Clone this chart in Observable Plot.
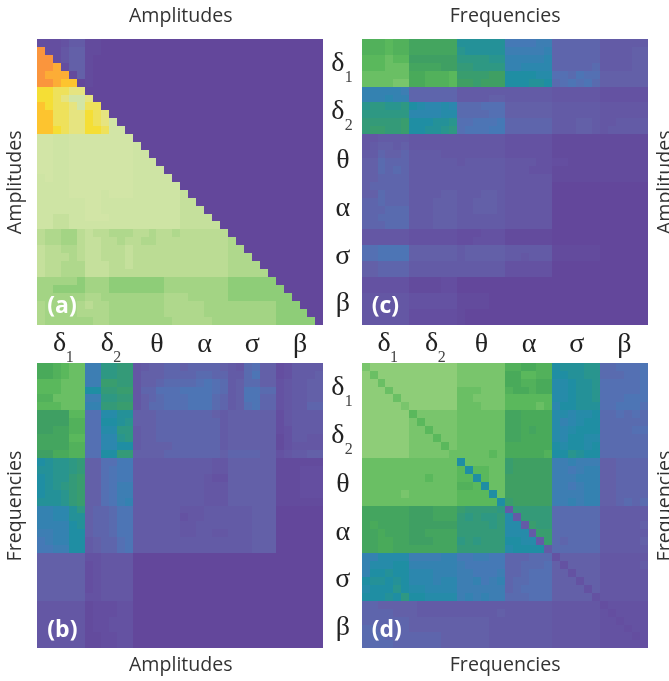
<!DOCTYPE html>
<html><head><meta charset="utf-8">
<script src="https://cdn.jsdelivr.net/npm/d3@7"></script>
<script src="https://cdn.jsdelivr.net/npm/@observablehq/plot@0.6"></script>
<style>html,body{margin:0;padding:0;background:#fff;overflow:hidden}svg{display:block}</style>
</head><body><div id="chart"></div>
<script>
const alphabet = "0123456789abcdefghijklmnopqrstuvwxyzABCDEF";
const stopChars  = ["0","3","6","9","b","e","g","j","m","o","q","s","u","w","y","z","A","C","D","F"];
const stopColors = ["#63479b","#6452a2","#6360a8","#5470b3","#4579b6","#2c87ae","#1f8ea3","#2e9883","#3f9f63","#49aa5a","#5ab85c","#79c56c","#a3d484","#bbdc94","#cee4a4","#d2e5a6","#e6e480","#f5de35","#fdc42f","#fa953d"];
const bandGlyphs = ["δ","δ","θ","α","σ","β"];
const bandSubs = ["1","2","","","",""];
const panelA = [
"222355 110000 000000 000000 000000 000000",
"F22466 110000 000000 000000 000000 000000",
"FF2466 100000 000000 000000 000000 000000",
"FFE266 100000 000000 000000 000000 000000",
"FEEE16 100000 000000 000000 000000 000000",
"FFEDD0 100000 000000 000000 000000 000000",
"CCBBAA 000000 000000 000000 000000 000000",
"CCBAzz A00000 000000 000000 000000 000000",
"DCBBAz BB0000 000000 000000 000000 000000",
"DDBBAA CBA000 000000 000000 000000 000000",
"DDBBAA CBAz00 000000 000000 000000 000000",
"DDCBAA CCBzz0 000000 000000 000000 000000",
"zzyyzz zzzzzz 000000 000000 000000 000000",
"zzyyzz zzzzzz y00000 000000 000000 000000",
"zzyyzz zzzzzz yy0000 000000 000000 000000",
"zzyyzz zzzzzz yyy000 000000 000000 000000",
"zzyyzz zzzzzz yyyy00 000000 000000 000000",
"yzyyzz zzzzzz yyyyy0 000000 000000 000000",
"yyyyzz zzzzzz yyyyyy 000000 000000 000000",
"yyyyzz zzyzzz yyyyyy x00000 000000 000000",
"yyyyyy zzyyyy yyyyyy xx0000 000000 000000",
"yyyyyy zzyyyy yyyyyy xxx000 000000 000000",
"yyxxyy zzzyyy yyyyyy xxxx00 000000 000000",
"yyxxyy yyyyyy yyyyyy xxxxx0 000000 000000",
"wvvuuw xwwvvv wwvwwv wwwwww 000000 000000",
"wvvuuw xxwwvw wvvwww wwwwww v00000 000000",
"xwwvvw xxwwwx wwwwww wwwwww vv0000 000000",
"xwwwvw xxwwwx wwwwww wwwwww vvv000 000000",
"xwwvvv xxxwwx wwwwww wwwwww vvvv00 000000",
"xwwvvv xxxwww wwwwww wwwwww vvvvv0 000000",
"uuuuut uuuttt ttttuu uuuuuu tttttt 000000",
"uutttt uuuttt ttttuu uuuuuu tttttt t00000",
"uuuuuu vvuuuu uuuuvv vuuuuu tttttt tt0000",
"vuuuuv wvvuuu uuuuvv vvvuuu uuuuuu ttt000",
"vuuuuv vvvuuu uuuuvv vvvuuu uuuuuu tttt00",
"vuuuuu uvvuuu uuuuuv vvvvuu uuuuuu ttttt0"];
const panelC = [
"pppqpp nnnnnn hhhhhh bbbbcc 777777 555555",
"pppqpp nnnnnn ihhhhh cccccd 777777 555566",
"qqqrqq mmmmmm jjjjii ddddde 777777 555566",
"qqqrrr nnnnmm kkjjjj ddeeee 777778 555566",
"rrrrrr oopppq llllmm ggggff 998a99 666666",
"rrrrss oopppq mmlmmm ggghhg 89a9a8 666666",
"dddddc 777777 555555 555555 444444 333333",
"dddedd 777777 555566 555555 444444 333333",
"ijjiij gfeefe 888999 666666 555555 444444",
"jjjjjj eeeeff 888899 666666 555555 444444",
"kkkkkl ggghhi 99aaab 777777 555665 445555",
"kllkkl gghhij 9aaabb 777777 555665 455555",
"445555 444444 444444 333333 111111 111111",
"456656 444444 444444 333333 111111 111111",
"557667 555544 444444 333333 111111 111111",
"668777 555555 455555 444433 221111 111111",
"668787 555555 555555 444333 111111 111111",
"667777 555555 555555 444444 111111 111111",
"677777 555555 555555 444444 000000 000000",
"668777 555566 555665 444444 000000 000000",
"778777 555666 556665 444444 000000 000000",
"777888 555666 556665 444444 000000 000000",
"778888 555666 555555 444444 000000 000000",
"777888 555666 555555 444444 000000 000000",
"444444 333333 222333 111111 000000 000000",
"444444 333333 223333 111111 000000 000000",
"99aaaa 666666 566666 555555 111111 000000",
"99aaaa 666666 566666 554555 111111 000000",
"667777 555555 555555 333333 000000 000000",
"667777 555555 555555 333333 000000 000000",
"333333 111122 000000 000000 000000 000000",
"333333 111122 000000 000000 000000 000000",
"444444 333333 111100 000000 000000 000000",
"444444 333333 111100 000000 000000 000000",
"444444 222222 100000 000000 000000 000000",
"444444 222222 100000 000000 000000 000000"];
const panelB = [
"oopqrr ccjjkk 456677 677776 548966 235555",
"oopqrr ccjjkk 466677 778877 558a66 235556",
"qqqrrr ccllkk 466788 889a98 568866 345566",
"qqqrrr ggkkll 477999 aaaa98 56aa88 345566",
"pprrrr ccjjkk 467899 9aaa87 56aa77 345566",
"qqqrrr ddkkll 468899 9aaa87 569a77 345577",
"mmmmqq 99ffhh 666777 777765 666666 245555",
"mmmmpp 99gghi 666777 777775 666666 245555",
"mmnnpp 99ffjj 566777 777775 666666 235555",
"nnnnqq 99eeij 566777 777775 666666 135544",
"nnnnpp 99eegg 566667 777775 666666 134444",
"mmoopp 99ggkk 666677 777776 777766 345566",
"ghiijk 6699bb 555555 555544 666666 111111",
"hhiijk 669abb 555555 555544 666666 111222",
"ghiikl 669abb 555555 555433 666666 111222",
"ghijkl 669acc 555555 555444 666666 111222",
"ghhikl 669acc 555555 555444 666666 111222",
"hhhikl 669acd 555555 555444 666666 111111",
"ddeehj 6778aa 555555 444555 555666 000000",
"ddeehh 6778aa 555555 344555 555666 000000",
"ddddgh 6778aa 555555 445555 555666 000000",
"ccddgg 6778aa 555555 445544 555666 000000",
"bcddgg 56779a 555555 555555 555666 000000",
"bbccgg 56779a 555555 555555 555666 000000",
"666666 334444 000000 000000 000000 000000",
"666666 234444 000000 000000 000000 000000",
"666666 234444 000000 000000 000000 000000",
"666666 234444 000000 000000 000000 000000",
"666666 234444 000000 000000 000000 000000",
"666666 334444 000000 000000 000000 000000",
"444444 122233 000000 000000 000000 000000",
"444444 122233 000000 000000 000000 000000",
"444444 122333 000000 000000 000000 000000",
"444444 122333 000000 000000 000000 000000",
"444444 112233 000000 000000 000000 000000",
"444444 112233 000000 000000 000000 000000"];
const panelD = [
"sttttt tttttt ssssss ppoopp ghhhii 88999a",
"trtttt tttttt ssssss ooqqpp gghhii 88899a",
"ttrttt tttttt ssssss ooppoo ffghhi 99999a",
"tttrtt tttttt rrrsss poopoo ffghhi 99999a",
"ttttrt tttttt rrssss qqqqqq ffghhi 999aaa",
"ttttts tttttt rrrsss qqqqrq egghhh 99aaa9",
"tttttt qsssss rrrrrr nnoooo ffeffg 889898",
"tttttt sqssss rrrrrr nnoooo fdefgg 888888",
"tttttt ssqsss rrrrrr nnonoo fefggg 888899",
"tttttt sssqss rrrrrr nnoooo feggff 888888",
"tttttt ssssqs rrrrrr oooooo gfggfg 888888",
"tttttt sssssr rrrrqr ooooop ggihgg 888888",
"rrrrrr rrrrrr grrrrr lmmmmm ccdccc 667777",
"rrrrrr rrrrrr qgqqrr lmmmmm ccbcdd 667777",
"rrrrrr rrqrrr qqgqrr mmmmmm cccddd 667777",
"rrrrrr rrrrrr ppqgrr mmmmmm ccbcdd 667777",
"rrrrrs rrrrrr qqqqgr mmmmmm ccccdd 667777",
"rrrrrr rrrrrr qqqqqg lmmmmm ccdcdd 667878",
"nnnnnn mmmnnn lkkkkj 5kkkkk 888888 555555",
"nnnnnn mmmnnn kjkjjk f5kkkk 888888 555555",
"nonnnn mmmmmm kkkkjk ff5lkk 888888 555556",
"nnonnn mmnnnn kkkkkk fff5ll 888888 555555",
"nnoonn mmmnnn jkjkkk ggff5l 878888 555556",
"nnoonn nnnnnn kkkkkk fgggg5 888888 555555",
"ddffff ccccdd bbccbb 777888 366666 444444",
"dfffgg dddddd cbbbbb 778889 636666 444445",
"dgghgg eeeddd ccbbbc 778999 663666 444444",
"ghhghg eeedee ccdbcd 788999 666366 444444",
"fgggig ffeeee cccccc 789999 666636 444444",
"ggghgj ggffff cdcdcc 888999 666663 444444",
"776666 655555 555555 555555 444444 233333",
"777766 655555 555556 555555 444444 323333",
"777777 666666 666655 555555 444444 332333",
"887777 666666 666655 555555 444444 333233",
"888777 777766 666655 555555 444444 333323",
"888877 777766 666655 555555 444444 333332"];

const panels = [
  {name:"(a)", col:"L", row:"T", rows:panelA},
  {name:"(c)", col:"R", row:"T", rows:panelC},
  {name:"(b)", col:"L", row:"B", rows:panelB},
  {name:"(d)", col:"R", row:"B", rows:panelD}
];
const cells = panels.flatMap(p => p.rows.flatMap((s, r) =>
  Array.from(s.replace(/ /g, ""), (ch, c) => ({col:p.col, row:p.row, c, r, level:alphabet.indexOf(ch)}))));

const FONT = "'Open Sans'", SERIF = "'Liberation Serif'", INK = "#333";
const bands = bandGlyphs.map((g, i) => ({g, sub:bandSubs[i], mid:i * 6 + 3}));
const xTicks = ["L","R"].flatMap(col => bands.map(b => ({...b, col, row:"T"})));
const yTicks = ["T","B"].flatMap(row => bands.map(b => ({...b, col:"L", row})));
const xTop = [{t:"Amplitudes", col:"L", row:"T"}, {t:"Frequencies", col:"R", row:"T"}];
const xBottom = [{t:"Amplitudes", col:"L", row:"B"}, {t:"Frequencies", col:"R", row:"B"}];
const yLeft = [{t:"Amplitudes", col:"L", row:"T"}, {t:"Frequencies", col:"L", row:"B"}];
const yRight = [{t:"Amplitudes", col:"R", row:"T"}, {t:"Frequencies", col:"R", row:"B"}];
const base = {fx:d => d.col, fy:d => d.row, lineAnchor:"middle"};
const soft = {imageFilter:"blur(0.35px)"};
const titleStyle = {...base, ...soft, text:"t", textAnchor:"middle", fontSize:19.6, fontFamily:FONT, fill:INK};
const serif = {...base, ...soft, textAnchor:"middle", fontFamily:SERIF, fill:"#222"};
const chart = Plot.plot({
  width:669, height:681,
  marginLeft:37.3, marginRight:21.3, marginTop:39, marginBottom:32.7,
  style:{background:"#fff", overflow:"hidden"},
  x:{domain:[0,36], axis:null},
  y:{domain:[0,36], reverse:true, axis:null},
  fx:{domain:["L","R"], padding:0.118, round:false, axis:null},
  fy:{domain:["T","B"], padding:0.118, round:false, axis:null},
  color:{type:"linear", domain:stopChars.map(c => alphabet.indexOf(c)), range:stopColors},
  marks:[
    Plot.rect(cells, {fx:d => d.col, fy:d => d.row, x1:d => d.c, x2:d => d.c + 1, y1:d => d.r, y2:d => d.r + 1,
      fill:d => d.level, shapeRendering:"crispEdges", imageFilter:"blur(0.6px)"}),
    Plot.text(panels, {...base, ...soft, text:"name", frameAnchor:"bottom-left", dx:9.5, dy:-19, textAnchor:"start",
      fill:"#fff", fontWeight:700, fontSize:23, fontFamily:FONT}),
    Plot.text(xTicks.filter(d => d.sub), {...serif, x:"mid", text:"g", frameAnchor:"bottom", dx:-2, dy:17, fontSize:28}),
    Plot.text(xTicks.filter(d => !d.sub), {...serif, x:"mid", text:"g", frameAnchor:"bottom", dy:18, fontSize:28}),
    Plot.text(xTicks.filter(d => d.sub), {...serif, x:"mid", text:"sub", frameAnchor:"bottom", dx:8, dy:32, fontSize:16, fill:"#444"}),
    Plot.text(yTicks.filter(d => d.sub), {...serif, y:"mid", text:"g", frameAnchor:"right", dx:14, dy:-1, fontSize:28}),
    Plot.text(yTicks.filter(d => !d.sub), {...serif, y:"mid", text:"g", frameAnchor:"right", dx:19, dy:1, fontSize:28}),
    Plot.text(yTicks.filter(d => d.sub), {...serif, y:"mid", text:"sub", frameAnchor:"right", dx:25, dy:14, fontSize:16, fill:"#444"}),
    Plot.text(xTop, {...titleStyle, frameAnchor:"top", dy:-24}),
    Plot.text(xBottom, {...titleStyle, frameAnchor:"bottom", dy:16}),
    Plot.text(yLeft, {...titleStyle, frameAnchor:"left", dx:-23.5, rotate:-90}),
    Plot.text(yRight, {...titleStyle, frameAnchor:"right", dx:16.5, rotate:-90})
  ]
});
document.getElementById("chart").append(chart);
</script></body></html>
